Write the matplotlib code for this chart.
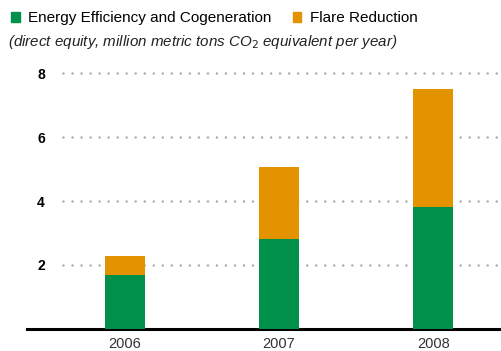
import matplotlib.pyplot as plt
from matplotlib.patches import Patch

plt.rcParams['font.family'] = ['Liberation Sans', 'DejaVu Sans']

# Emission reductions by year (million metric tons CO2e per year)
years = ["2006", "2007", "2008"]
energy_efficiency = [1.69, 2.80, 3.82]
flare_reduction = [0.59, 2.25, 3.68]
y_ticks = [2, 4, 6, 8]

GREEN = "#00904A"
ORANGE = "#E39300"

fig = plt.figure(figsize=(5.01, 3.51), dpi=100)
ax = fig.add_axes([27 / 501, 22 / 351, 474 / 501, 272 / 351])

x = list(range(len(years)))
width = 0.26
ax.bar(x, energy_efficiency, width, color=GREEN, zorder=3)
ax.bar(x, flare_reduction, width, bottom=energy_efficiency, color=ORANGE, zorder=3)

ax.set_xlim(-0.636, 2.44)
ax.set_ylim(0, 8.5)

# dotted gridlines starting right of the tick labels
for t in y_ticks:
    ax.plot([-0.40, 2.44], [t, t], color="#a8a8a8", linestyle=(0, (0.01, 3.6)),
            linewidth=1.8, zorder=1, dash_capstyle="round")

for side in ["top", "right", "left"]:
    ax.spines[side].set_visible(False)
ax.spines["bottom"].set_linewidth(2.2)
ax.spines["bottom"].set_color("black")

ax.set_xticks(x)
ax.set_xticklabels(years, fontsize=10.5, color="#333333")
ax.tick_params(axis="x", length=0, pad=6)
ax.set_yticks(y_ticks)
ax.set_yticklabels([str(t) for t in y_ticks], fontsize=10, fontweight="bold")
ax.tick_params(axis="y", length=0, pad=-10)
for lbl in ax.get_yticklabels():
    lbl.set_horizontalalignment("center")

handles = [Patch(color=GREEN, label="Energy Efficiency and Cogeneration"),
           Patch(color=ORANGE, label="Flare Reduction")]
fig.legend(handles=handles, loc="upper left", bbox_to_anchor=(0.0, 1.0),
           ncol=2, frameon=False, fontsize=11, handlelength=0.55, handleheight=0.55,
           handletextpad=0.55, columnspacing=1.4, borderaxespad=0.35)

fig.text(8 / 501, 1 - 42 / 351,
         "(direct equity, million metric tons CO$_2$ equivalent per year)",
         fontsize=10.9, fontstyle="italic", color="#222222", va="center")

fig.savefig("out.png", dpi=100)
